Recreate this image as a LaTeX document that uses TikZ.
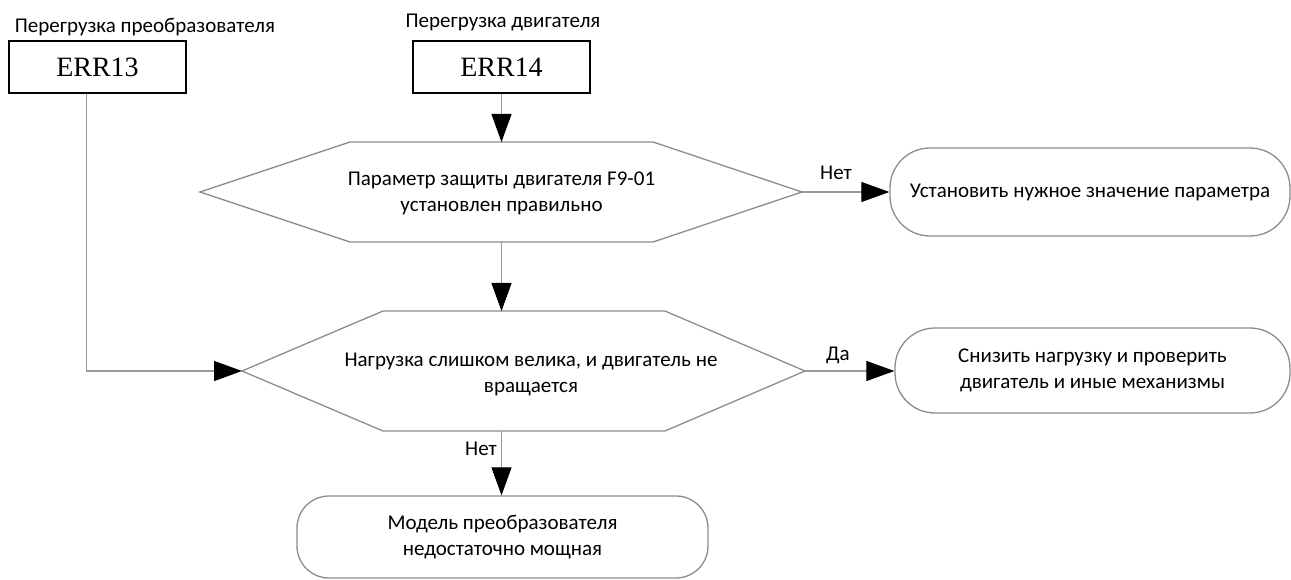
\documentclass[tikz,border=0pt]{standalone}
\usepackage{fontspec}
\setmainfont{Carlito}
\newfontfamily\errfont{Liberation Serif}
\usetikzlibrary{arrows.meta,calc}
\begin{document}
\begin{tikzpicture}[x=1pt,y=-1pt,
  lbl/.style={font=\fontsize{21}{26}\selectfont, inner sep=0pt, align=center},
  errbox/.style={draw=black, line width=2pt, minimum width=177pt, minimum height=52pt,
    font=\errfont\fontsize{28}{30}\selectfont, inner sep=0pt},
  hexline/.style={draw=black!45, line width=1.3pt, line join=miter},
  endbox/.style={draw=black!45, line width=1.3pt, font=\fontsize{21}{26}\selectfont,
    align=center, inner sep=0pt},
  conn/.style={draw=black!40, line width=1.2pt, -{Triangle[length=28pt,width=20pt,color=black]}},
]
\useasboundingbox (0,0) rectangle (1291,580);
% top boxes
\node[errbox] (e13) at (97.5,67) {ERR13};
\node[errbox] (e14) at (501.5,67) {ERR14};
\node[lbl, anchor=base] (t13) at (145,33) {Перегрузка преобразователя};
\node[lbl, anchor=base] (t14) at (503,28) {Перегрузка двигателя};
% decision 1
\path (350,142) coordinate (d1tl) (653,142) coordinate (d1tr) (802,192) coordinate (d1r)
      (653,242) coordinate (d1br) (350,242) coordinate (d1bl) (200,192) coordinate (d1l);
\draw[hexline] (d1tl) -- (d1tr) -- (d1r) -- (d1br) -- (d1bl) -- (d1l) -- cycle;
\node[lbl] (d1) at (501.5,193) {Параметр защиты двигателя F9-01\\установлен правильно};
% decision 2
\path (383,311) coordinate (d2tl) (665,311) coordinate (d2tr) (805,371) coordinate (d2r)
      (665,431) coordinate (d2br) (383,431) coordinate (d2bl) (242,371) coordinate (d2l);
\draw[hexline] (d2tl) -- (d2tr) -- (d2r) -- (d2br) -- (d2bl) -- (d2l) -- cycle;
\node[lbl] (d2) at (531,374) {Нагрузка слишком велика, и двигатель не\\вращается};
% end boxes
\node[endbox, rounded corners=40pt, minimum width=400pt, minimum height=88pt] (b1) at (1090,192)
  {Установить нужное значение параметра};
\node[endbox, rounded corners=40pt, minimum width=395pt, minimum height=85pt] (b2) at (1092.5,370.5)
  {Снизить нагрузку и проверить\\двигатель и иные механизмы};
\node[endbox, rounded corners=32pt, minimum width=411pt, minimum height=82pt] (b3) at (502.5,537)
  {Модель преобразователя\\недостаточно мощная};
% connectors
\draw[conn] (e14.south) -- (e14.south |- d1tl);
\draw[conn] (e14.south |- d1bl) -- (e14.south |- d2tl);
\draw[conn] (e14.south |- d2bl) -- (b3.north -| e14.south);
\draw[conn] ($(e13.south)+(-11,0)$) |- (d2l);
\draw[conn] (d1r) -- (b1.west);
\draw[conn] (d2r) -- (b2.west |- d2r);
% branch labels
\node[lbl, anchor=base] (n1) at (836,180) {Нет};
\node[lbl, anchor=base] (y1) at (838,360) {Да};
\node[lbl, anchor=base] (n2) at (481,455) {Нет};
\end{tikzpicture}
\end{document}
